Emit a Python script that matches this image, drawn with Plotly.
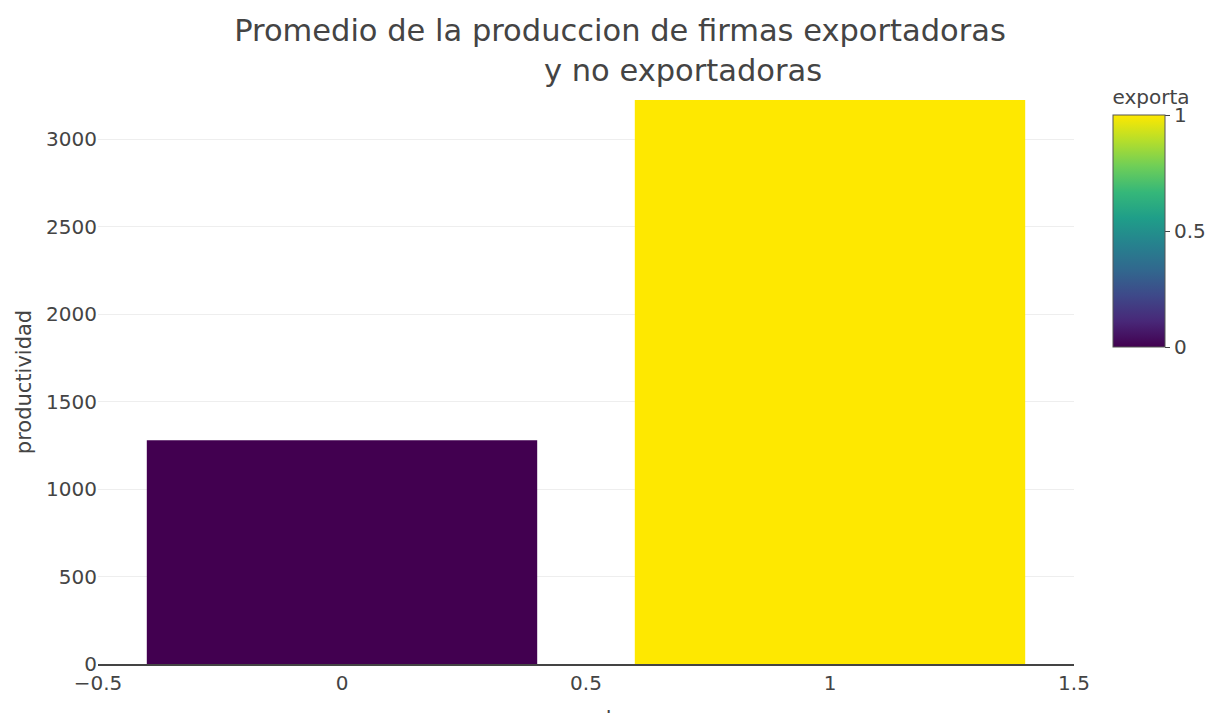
import plotly.graph_objects as go
from plotly.colors import sequential

exporta = [0, 1]
productividad = [1280, 3225]
title_line1 = "Promedio de la produccion de firmas exportadoras"
title_line2 = "y no exportadoras"
x_title = "exporta"

FONT = "DejaVu Sans"
TXT = "#444"

vir = list(sequential.Viridis)
vir[0] = "#420050"
vir[-1] = "#fee800"
n = len(vir)
cscale = [[i / (n - 1), c] for i, c in enumerate(vir)]

W, H = 1212, 713
L, R, T, B = 98, 138, 100, 49
plot_h = H - T - B
plot_w = W - L - R

fig = go.Figure(
    go.Bar(
        x=exporta,
        y=productividad,
        marker=dict(
            color=exporta,
            colorscale=cscale,
            cmin=0,
            cmax=1,
            showscale=True,
            line=dict(width=0),
            colorbar=dict(
                title=dict(text="exporta", side="top", font=dict(size=20, color=TXT, family=FONT)),
                x=(1113 - L) / plot_w, xanchor="left", xpad=0,
                y=(664 - 86) / plot_h, yanchor="top", ypad=0,
                len=261 / plot_h,
                thickness=52,
                outlinewidth=1, outlinecolor="#555",
                ticks="outside", ticklen=5, tickcolor="#444",
                tickvals=[0, 0.5, 1],
                tickfont=dict(size=20, color=TXT, family=FONT),
            ),
        ),
        width=0.8,
    )
)

fig.add_annotation(
    text=x_title,
    xref="paper", x=0.5, xanchor="center",
    yref="paper", y=-(704 - 664) / plot_h, yanchor="top",
    showarrow=False,
    font=dict(size=21, color=TXT, family=FONT),
)

fig.update_layout(
    width=W,
    height=H,
    margin=dict(l=L, r=R, t=T, b=B, autoexpand=False),
    paper_bgcolor="white",
    plot_bgcolor="white",
    font=dict(family=FONT, color=TXT, size=20),
    title=dict(
        text=title_line1 + "<br>" + "\u00a0" * 13 + title_line2,
        xref="container", x=620 / W, xanchor="center",
        yref="container", y=1 - 41 / H, yanchor="top",
        font=dict(size=30.5, color=TXT, family=FONT),
    ),
    showlegend=False,
    xaxis=dict(
        range=[-0.5, 1.5],
        dtick=0.5,
        tick0=0,
        showgrid=False,
        zeroline=False,
        showline=True,
        linecolor="#444",
        linewidth=2,
        ticks="",
        tickfont=dict(size=20, color=TXT),
        automargin=False,
    ),
    yaxis=dict(
        range=[0, 3225],
        dtick=500,
        showgrid=True,
        gridcolor="#eeeeee",
        gridwidth=1,
        zeroline=False,
        showline=False,
        ticks="",
        tickfont=dict(size=20, color=TXT),
        title=dict(text="productividad", font=dict(size=21, color=TXT), standoff=8),
        automargin=False,
    ),
)

fig.write_html(
    "out.html",
    config={"displayModeBar": False},
    post_script="document.body.style.margin='0';document.body.style.overflow='hidden';",
)
